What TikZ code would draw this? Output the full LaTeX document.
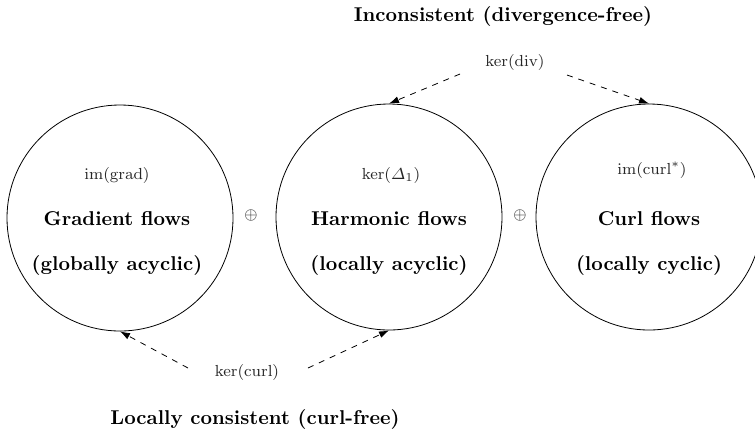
\documentclass[tikz,border=0pt]{standalone}
\usepackage{amsmath}
\usetikzlibrary{arrows.meta}

\begin{document}
\begin{tikzpicture}[x=0.5pt,y=-0.5pt,>={Latex[length=5pt,width=3.4pt]},font=\small]
\tikzset{space/.style={circle,draw,inner sep=0pt,minimum size=113pt},
  flow/.style={font=\normalsize\bfseries},
  sub/.style={font=\fontsize{8.3}{10}\selectfont,black!85},
  link/.style={->,dashed}}
\useasboundingbox (0,0) rectangle (755,436);
%% the three subspaces
\node[space] (grad) at (120,218) {};
\node[space] (harm) at (389,217) {};
\node[space] (curl) at (649,217) {};
\node[sub] (imgrad) at (117,175) {$\mathrm{im}(\mathrm{grad})$};
\node[flow] (gradname) at (117,219) {Gradient flows};
\node[flow] (gradnote) at (117,265) {(globally acyclic)};
\node[sub] (kerlap) at (391,175) {$\ker(\varDelta_1)$};
\node[flow] (harmname) at (389,219) {Harmonic flows};
\node[flow] (harmnote) at (389,265) {(locally acyclic)};
\node[sub] (imcurl) at (652,170) {$\mathrm{im}(\mathrm{curl}^*)$};
\node[flow] (curlname) at (649,219) {Curl flows};
\node[flow] (curlnote) at (649,265) {(locally cyclic)};
\node[sub] (sumA) at (251,215) {$\oplus$};
\node[sub] (sumB) at (520,215) {$\oplus$};
%% kernels
\node[flow] (incons) at (503,16) {Inconsistent (divergence-free)};
\node[sub] (kerdiv) at (515,62) {$\ker(\mathrm{div})$};
\coordinate (divL) at (460,74);
\coordinate (divR) at (567,75);
\draw[link] (divL) -- (harm.north);
\draw[link] (divR) -- (curl.north);
\node[sub] (kercurl) at (247,372) {$\ker(\mathrm{curl})$};
\coordinate (curlL) at (188,368);
\coordinate (curlR) at (308,368);
\draw[link] (curlL) -- (grad.south);
\draw[link] (curlR) -- (harm.south);
\node[flow] (locons) at (255,419) {Locally consistent (curl-free)};
\end{tikzpicture}
\end{document}
